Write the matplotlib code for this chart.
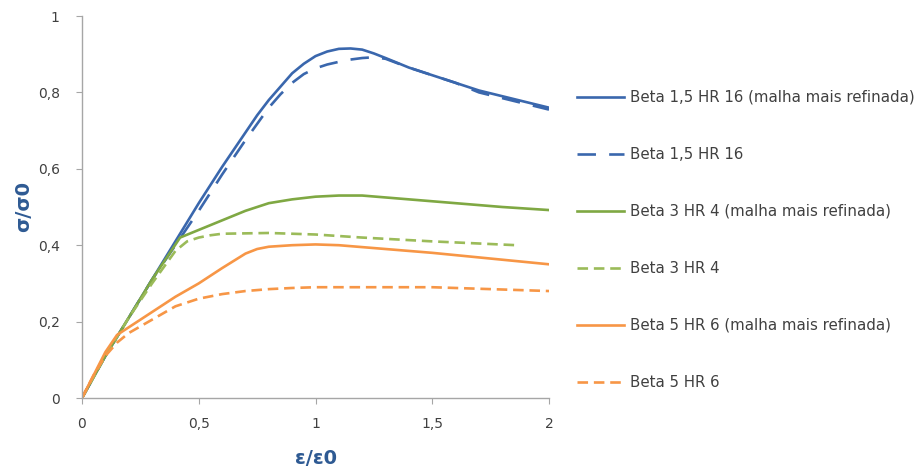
import matplotlib
matplotlib.use("Agg")
import matplotlib.pyplot as plt
from matplotlib.ticker import FuncFormatter

# ---- data ----
x_b16s = [0, 0.1, 0.2, 0.3, 0.4, 0.5, 0.6, 0.7, 0.75, 0.8, 0.85, 0.9, 0.95, 1.0, 1.05, 1.1, 1.15, 1.2, 1.25, 1.3, 1.4, 1.5, 1.6, 1.7, 1.8, 1.9, 2.0]
y_b16s = [0, 0.11, 0.21, 0.31, 0.41, 0.51, 0.605, 0.695, 0.74, 0.78, 0.815, 0.85, 0.875, 0.895, 0.907, 0.914, 0.915, 0.912, 0.902, 0.89, 0.865, 0.845, 0.825, 0.805, 0.79, 0.775, 0.76]
x_b16d = [0, 0.1, 0.2, 0.3, 0.4, 0.5, 0.6, 0.7, 0.8, 0.85, 0.9, 0.95, 1.0, 1.05, 1.1, 1.15, 1.2, 1.25, 1.3, 1.4, 1.5, 1.6, 1.7, 1.8, 1.9, 2.0]
y_b16d = [0, 0.11, 0.21, 0.31, 0.40, 0.49, 0.585, 0.675, 0.76, 0.795, 0.825, 0.848, 0.863, 0.873, 0.88, 0.886, 0.89, 0.892, 0.888, 0.865, 0.845, 0.825, 0.80, 0.785, 0.77, 0.755]

x_g4s = [0, 0.1, 0.2, 0.3, 0.42, 0.5, 0.6, 0.7, 0.75, 0.8, 0.9, 1.0, 1.1, 1.2, 1.3, 1.5, 1.8, 2.0]
y_g4s = [0, 0.11, 0.21, 0.31, 0.42, 0.44, 0.465, 0.49, 0.50, 0.51, 0.52, 0.527, 0.53, 0.53, 0.525, 0.515, 0.50, 0.492]
x_g4d = [0, 0.1, 0.2, 0.3, 0.4, 0.45, 0.5, 0.55, 0.6, 0.8, 1.0, 1.2, 1.5, 1.86]
y_g4d = [0, 0.11, 0.21, 0.30, 0.385, 0.41, 0.42, 0.426, 0.43, 0.432, 0.428, 0.42, 0.41, 0.40]

x_o6s = [0, 0.1, 0.15, 0.2, 0.3, 0.4, 0.5, 0.6, 0.7, 0.75, 0.8, 0.9, 1.0, 1.1, 1.2, 1.3, 1.5, 1.75, 2.0]
y_o6s = [0, 0.12, 0.165, 0.185, 0.225, 0.265, 0.30, 0.34, 0.378, 0.39, 0.396, 0.40, 0.402, 0.40, 0.395, 0.39, 0.38, 0.365, 0.35]
x_o6d = [0, 0.05, 0.1, 0.15, 0.2, 0.3, 0.4, 0.5, 0.6, 0.7, 0.8, 0.9, 1.0, 1.5, 2.0]
y_o6d = [0, 0.06, 0.11, 0.145, 0.17, 0.205, 0.24, 0.26, 0.272, 0.28, 0.285, 0.288, 0.29, 0.29, 0.28]

labels = ["Beta 1,5 HR 16 (malha mais refinada)", "Beta 1,5 HR 16",
          "Beta 3 HR 4 (malha mais refinada)", "Beta 3 HR 4",
          "Beta 5 HR 6 (malha mais refinada)", "Beta 5 HR 6"]
x_ticks = [0, 0.5, 1, 1.5, 2]
y_ticks = [0, 0.2, 0.4, 0.6, 0.8, 1]

blue = "#3A67AD"
green = "#7FA843"
green_l = "#9BBB59"
orange = "#F79646"

fig = plt.figure(figsize=(9.19, 4.70), dpi=100)
ax = fig.add_axes([82/919, 1-398/470, (549-82)/919, (398-16)/470])

lw = 1.9
ax.plot(x_b16s, y_b16s, color=blue, lw=lw, label=labels[0])
ax.plot(x_b16d, y_b16d, color=blue, lw=lw, dashes=(7, 5), label=labels[1])
ax.plot(x_g4s, y_g4s, color=green, lw=lw, label=labels[2])
ax.plot(x_g4d, y_g4d, color=green_l, lw=lw, dashes=(4, 2.2), label=labels[3])
ax.plot(x_o6s, y_o6s, color=orange, lw=lw, label=labels[4])
ax.plot(x_o6d, y_o6d, color=orange, lw=lw, dashes=(4, 2.2), label=labels[5])

ax.set_xlim(0, 2)
ax.set_ylim(0, 1)
ax.set_xticks(x_ticks)
ax.set_yticks(y_ticks)
fmt = FuncFormatter(lambda v, p: ("%g" % v).replace(".", ","))
ax.xaxis.set_major_formatter(fmt)
ax.yaxis.set_major_formatter(fmt)
for s in ["top", "right"]:
    ax.spines[s].set_visible(False)
for s in ["left", "bottom"]:
    ax.spines[s].set_color("#A6A6A6")
    ax.spines[s].set_linewidth(1.0)
ax.tick_params(axis="both", colors="#A6A6A6", labelcolor="#404040", labelsize=10,
               length=4, direction="out")
ax.tick_params(axis="y", pad=12)
ax.tick_params(axis="x", pad=10)

ax.set_xlabel("ε/ε0", fontsize=14, fontweight="bold", color="#2E5A93", labelpad=13)
ax.set_ylabel("σ/σ0", fontsize=14, fontweight="bold", color="#2E5A93", labelpad=3)

leg = ax.legend(loc="upper left", bbox_to_anchor=(577/919, 1-90/470),
                bbox_transform=fig.transFigure, frameon=False, fontsize=10.8,
                handlelength=3.1, handletextpad=0.45, labelspacing=2.8,
                borderaxespad=0, borderpad=0)
for t in leg.get_texts():
    t.set_color("#404040")

fig.savefig("out.png", dpi=100)
